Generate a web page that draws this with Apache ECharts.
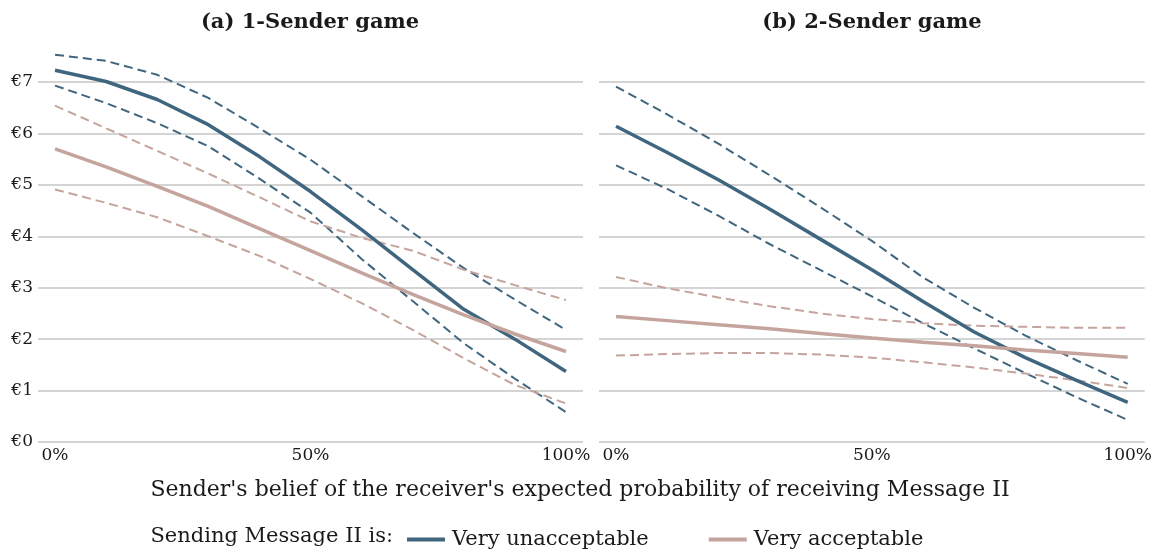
<!DOCTYPE html>
<html>
<head>
<meta charset="utf-8">
<script src="https://cdn.jsdelivr.net/npm/echarts@6/dist/echarts.min.js"></script>
<style>
  html, body { margin: 0; padding: 0; background: #fff; }
  #chart { width: 1155px; height: 554px; }
</style>
</head>
<body>
<div id="chart"></div>
<script>
// belief of receiver's probability (%)
var xs = [0, 10, 20, 30, 40, 50, 60, 70, 80, 90, 100];
var xTicks = [0, 50, 100];

// (a) 1-Sender game
var oneVeryUnacc   = [7.23, 7.01, 6.66, 6.17, 5.55, 4.87, 4.13, 3.35, 2.58, 2.00, 1.37];
var oneVeryUnaccHi = [7.53, 7.41, 7.14, 6.69, 6.10, 5.49, 4.78, 4.07, 3.38, 2.77, 2.18];
var oneVeryUnaccLo = [6.93, 6.59, 6.20, 5.75, 5.12, 4.46, 3.56, 2.74, 1.92, 1.23, 0.58];
var oneVeryAcc     = [5.70, 5.35, 4.97, 4.58, 4.15, 3.72, 3.29, 2.87, 2.47, 2.10, 1.76];
var oneVeryAccHi   = [6.54, 6.10, 5.66, 5.22, 4.76, 4.29, 3.97, 3.72, 3.35, 3.05, 2.76];
var oneVeryAccLo   = [4.91, 4.65, 4.37, 4.00, 3.62, 3.17, 2.70, 2.18, 1.63, 1.11, 0.75];

// (b) 2-Sender game
var twoVeryUnacc   = [6.14, 5.63, 5.10, 4.53, 3.94, 3.35, 2.73, 2.14, 1.64, 1.20, 0.77];
var twoVeryUnaccHi = [6.91, 6.37, 5.80, 5.19, 4.56, 3.91, 3.20, 2.61, 2.07, 1.59, 1.13];
var twoVeryUnaccLo = [5.38, 4.92, 4.40, 3.85, 3.34, 2.83, 2.31, 1.82, 1.34, 0.87, 0.43];
var twoVeryAcc     = [2.44, 2.36, 2.28, 2.20, 2.11, 2.02, 1.94, 1.87, 1.79, 1.72, 1.65];
var twoVeryAccHi   = [3.21, 2.99, 2.81, 2.64, 2.50, 2.39, 2.31, 2.26, 2.24, 2.22, 2.22];
var twoVeryAccLo   = [1.68, 1.71, 1.73, 1.73, 1.70, 1.64, 1.55, 1.45, 1.33, 1.20, 1.05];

var BLUE = '#40667f';
var PINK = '#c4a49d';
var FONT = '"DejaVu Serif", serif';

function pts(vals) {
    return xs.map(function (x, i) { return [x, vals[i]]; });
}

function line(name, vals, idx, color, dashed) {
    return {
        name: name,
        type: 'line',
        xAxisIndex: idx,
        yAxisIndex: idx,
        data: pts(vals),
        symbol: 'none',
        clip: false,
        silent: true,
        z: dashed ? 2 : 3,
        lineStyle: {
            color: color,
            width: dashed ? 2 : 3.5,
            type: dashed ? [9, 5] : 'solid'
        },
        itemStyle: { color: color }
    };
}

function xAxisFor(idx) {
    return {
        type: 'value',
        gridIndex: idx,
        min: -3.33,
        max: 103.33,
        axisLine: { show: false },
        axisTick: { show: false },
        splitLine: { show: false },
        axisLabel: {
            customValues: xTicks,
            formatter: '{value}%',
            fontFamily: FONT,
            fontSize: 17,
            color: '#1a1a1a',
            margin: 5
        }
    };
}

function yAxisFor(idx, labels) {
    return {
        type: 'value',
        gridIndex: idx,
        min: 0,
        max: 7,
        interval: 1,
        axisLine: { show: false },
        axisTick: { show: false },
        splitLine: { lineStyle: { color: '#c6c6c6', width: 1.5 } },
        axisLabel: {
            show: labels,
            formatter: '€{value}',
            fontFamily: FONT,
            fontSize: 17,
            color: '#1a1a1a',
            margin: 5
        }
    };
}

var myChart = echarts.init(document.getElementById('chart'));
myChart.setOption({
    backgroundColor: '#ffffff',
    animation: false,
    textStyle: { fontFamily: FONT },
    grid: [
        { left: 38, top: 82, width: 545, height: 360 },
        { left: 599, top: 82, width: 546, height: 360 }
    ],
    xAxis: [xAxisFor(0), xAxisFor(1)],
    yAxis: [yAxisFor(0, true), yAxisFor(1, false)],
    legend: {
        data: ['Very unacceptable', 'Very acceptable'],
        left: 402,
        top: 524,
        icon: 'rect',
        itemWidth: 38,
        itemHeight: 4,
        itemGap: 60,
        selectedMode: false,
        textStyle: { fontFamily: FONT, fontSize: 21, color: '#1a1a1a', padding: [0, 0, 0, 2] }
    },
    graphic: [
        {
            type: 'text', x: 310, y: 23,
            style: { text: '(a) 1-Sender game', font: 'bold 21px ' + FONT, fill: '#1a1a1a', textAlign: 'center', textVerticalAlign: 'middle' }
        },
        {
            type: 'text', x: 872, y: 23,
            style: { text: '(b) 2-Sender game', font: 'bold 21px ' + FONT, fill: '#1a1a1a', textAlign: 'center', textVerticalAlign: 'middle' }
        },
        {
            type: 'text', x: 580, y: 490,
            style: { text: "Sender's belief of the receiver's expected probability of receiving Message II", font: '22px ' + FONT, fill: '#1a1a1a', textAlign: 'center', textVerticalAlign: 'middle' }
        },
        {
            type: 'text', x: 393, y: 537,
            style: { text: 'Sending Message II is:', font: '21px ' + FONT, fill: '#1a1a1a', textAlign: 'right', textVerticalAlign: 'middle' }
        }
    ],
    series: [
        line('Very unacceptable', oneVeryUnacc, 0, BLUE, false),
        line('1 unacc hi', oneVeryUnaccHi, 0, BLUE, true),
        line('1 unacc lo', oneVeryUnaccLo, 0, BLUE, true),
        line('Very acceptable', oneVeryAcc, 0, PINK, false),
        line('1 acc hi', oneVeryAccHi, 0, PINK, true),
        line('1 acc lo', oneVeryAccLo, 0, PINK, true),
        line('Very unacceptable', twoVeryUnacc, 1, BLUE, false),
        line('2 unacc hi', twoVeryUnaccHi, 1, BLUE, true),
        line('2 unacc lo', twoVeryUnaccLo, 1, BLUE, true),
        line('Very acceptable', twoVeryAcc, 1, PINK, false),
        line('2 acc hi', twoVeryAccHi, 1, PINK, true),
        line('2 acc lo', twoVeryAccLo, 1, PINK, true)
    ]
});
</script>
</body>
</html>
